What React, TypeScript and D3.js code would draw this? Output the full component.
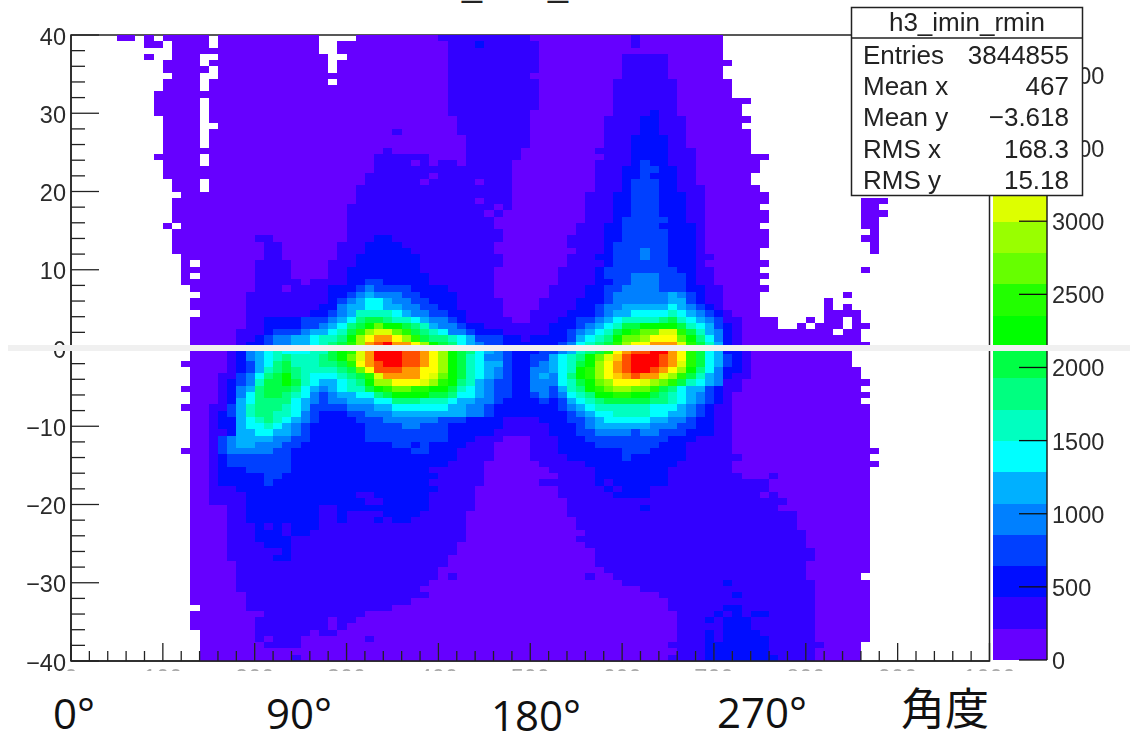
import React from "react";
import * as d3 from "d3";

// ROOT palette bands, from bottom of the colour bar upwards
const paletteColors = ["#6600ff","#3300ff","#0010ff","#0040ff","#0080ff","#00b0ff","#00ffff","#00ffc0","#00ff80","#00ff44","#00ff00","#22ff00","#66ff00","#99ff00","#ddff00","#ffff00","#ffcc00","#ff9900","#ff5000","#ff0000"];
const levelKeys = "0123456789abcdefghij";
const bandWidth = 214;
const paletteTicks = [0,500,1000,1500,2000,2500,3000,3500,4000];
const yTicksMajor = [-40,-30,-20,-10,0,10,20,30,40];
const xTicksMajor = [0,100,200,300,400,500,600,700,800,900,1000];
const xLabels = ["0","100","200","300","400","500","600","700","800","900","1000"];
const statsRows = [["Entries","3844855"],["Mean x","467"],["Mean y","\u22123.618"],["RMS x","168.3"],["RMS y","15.18"]];
const angleLabels = [["0\u00b0",53,729],["90\u00b0",266,729],["180\u00b0",491,731],["270\u00b0",717,728]];

// Each row of the 100 x 100 histogram, top (y=+40) to bottom (y=-40).
// A token is <first bin><level key>; "." means an empty bin. The level holds until the next token.
const histogramRows = [
"50 7. 80 9. 100 15. 160 27. 310 401 500 611 620 71.",
"80 10. 110 15. 160 27. 290 411 442 451 510 611 620 71.",
"110 27. 290 411 510 71.",
"80 9. 110 14. 160 28. 300 411 510 601 650 71.",
"100 14. 150 28. 290 411 510 601 650 72.",
"100 15. 160 28. 290 411 510 601 650 71.",
"110 14. 160 411 500 601 650 71.",
"100 14. 150 28. 290 411 510 591 660 72.",
"100 14. 150 411 510 591 660 72.",
"90 411 510 591 660 72.",
"90 14. 150 411 510 591 660 74.",
"90 14. 150 411 510 591 660 73.",
"90 14. 150 411 500 591 632 641 660 73.",
"100 14. 150 421 500 581 622 641 670 74.",
"100 14. 160 421 500 581 622 641 670 73.",
"100 14. 150 351 360 421 500 581 622 641 670 74.",
"100 14. 150 431 500 581 612 651 670 74.",
"100 14. 150 431 500 581 612 651 670 74.",
"100 341 350 431 490 571 612 651 680 74.",
"90 14. 150 331 390 431 490 581 612 651 680 76.",
"100 14. 150 331 370 381 390 401 420 431 480 571 612 623 632 651 680 75.",
"100 331 480 571 602 623 642 661 680 75.",
"100 321 390 401 480 571 602 623 632 661 680 74.",
"110 14. 150 321 380 391 440 451 480 571 602 613 642 661 680 74.",
"110 14. 150 311 480 571 602 613 642 661 690 75.",
"120 311 480 561 592 613 642 671 690 76.",
"110 311 440 451 480 561 592 613 642 671 690 76. 860 89.",
"110 301 460 471 480 561 592 613 642 671 690 75. 860 88.",
"110 301 450 461 470 561 592 613 642 671 690 76. 860 89.",
"110 301 460 561 592 603 652 671 690 76. 860 88.",
"100 11. 120 301 460 551 582 603 642 681 690 75. 860 88.",
"110 301 470 551 582 603 652 681 690 76. 870 88.",
"110 201 220 301 332 351 470 541 582 603 652 681 690 76. 860 88.",
"110 211 230 291 322 361 460 541 582 593 652 681 690 76. 870 88.",
"110 211 230 291 322 371 460 551 582 593 624 633 652 681 690 75. 870 88.",
"120 211 230 291 312 381 470 541 572 593 624 633 652 681 700 75.",
"120 13. 140 201 240 281 312 381 470 541 582 593 652 681 690 76.",
"120 201 240 281 302 381 460 531 572 583 662 681 700 75. 860 87.",
"120 13. 140 201 240 281 302 391 460 531 572 583 614 643 672 681 700 76.",
"120 201 250 261 302 323 342 391 460 531 572 593 614 643 672 681 700 75.",
"130 201 230 241 282 313 324 333 372 411 460 521 562 583 604 643 672 691 710 76.",
"140 191 282 303 314 325 334 363 382 421 460 521 562 583 594 655 664 673 682 691 710 75. 840 85.",
"130 191 282 293 304 315 326 345 354 373 392 421 470 511 552 583 594 655 673 682 691 710 75. 820 83.",
"130 191 272 294 305 326 345 364 383 402 421 470 511 552 573 584 605 656 665 674 683 692 701 710 75. 820 83. 840 85.",
"140 191 262 283 294 305 317 356 365 374 393 412 431 470 501 542 573 584 595 616 657 666 675 684 693 702 711 720 75. 820 84. 840 86.",
"130 191 212 253 284 295 306 318 329 348 357 376 385 394 413 422 431 480 501 532 553 574 585 596 607 648 659 667 676 685 694 703 711 730 77. 800 81. 820 84. 850 86.",
"130 191 212 253 274 285 296 308 319 32a 33c 34a 369 378 387 395 404 423 432 451 522 553 564 575 586 597 609 62a 669 677 686 695 703 712 721 730 77. 790 80. 810 84. 850 87.",
"130 181 212 223 254 265 286 297 309 31b 32d 33e 35c 36b 379 388 397 406 414 433 442 471 522 543 554 565 576 587 599 60a 61b 62c 64e 66b 679 687 695 704 712 721 730 83. 840 86.",
"130 181 202 213 224 245 266 277 298 30a 31d 32f 33h 35f 36d 37b 389 398 417 426 435 443 472 491 502 543 555 566 577 588 59a 60c 62d 63f 66c 67a 688 696 704 712 721 730 86.",
"130 181 192 213 224 245 266 277 288 299 30b 31d 32h 33i 34j 35h 37f 38d 39a 409 418 426 435 444 453 472 533 544 556 567 578 589 59b 60d 61f 63h 66e 67b 689 697 705 712 721 730 87.",
"130 171 182 194 205 216 227 236 267 289 29a 30b 31e 32h 33j 36i 38h 39f 40d 41a 429 438 446 455 464 473 482 513 534 545 557 568 579 58b 59f 60h 61i 63j 65h 66f 67b 689 696 705 712 731 740 85.",
"130 171 182 194 205 216 227 238 247 278 289 29a 30c 31e 32h 33j 36i 38h 39f 40d 41a 429 437 446 454 473 482 503 525 536 547 558 56a 57c 58e 59g 60i 61j 64i 65h 66f 67b 689 696 705 713 722 731 740 85.",
"120 171 182 193 205 216 228 239 247 278 299 30b 31f 32h 33i 34j 36i 38h 39f 40d 41a 429 437 446 455 473 482 503 514 525 536 547 559 56a 57d 58f 59h 60i 61j 64i 65h 66e 67b 689 696 705 713 722 731 740 85.",
"130 171 182 193 205 217 228 239 248 257 298 309 31c 32f 33i 36h 38f 40d 41a 429 437 446 455 464 473 482 504 525 536 547 55a 56b 57d 58f 59h 60i 61j 63i 64h 65f 66d 67a 688 696 704 712 731 740 86.",
"130 161 183 194 206 218 229 23a 248 257 266 297 308 319 32b 33e 34h 38f 39e 40c 41a 429 437 446 455 464 473 482 504 515 524 536 548 55a 56b 57d 58f 59g 60h 61i 62h 64e 65d 66b 679 687 695 704 712 721 740 86.",
"130 161 172 183 194 207 219 23a 249 257 266 275 296 307 318 32a 33d 35f 38e 39d 40b 41a 428 437 445 454 463 482 504 536 547 559 56a 57c 58d 59f 62e 63d 64c 65b 669 677 686 695 704 711 730 87.",
"120 161 172 184 195 208 219 248 256 265 274 285 296 307 329 33a 34b 35c 37b 39a 419 427 436 445 454 463 482 504 523 535 547 558 56a 57b 58c 59d 61c 63b 649 658 666 675 693 702 711 730 86.",
"130 161 172 184 196 208 219 238 247 256 264 273 284 295 316 338 349 35a 399 418 426 445 454 463 482 503 514 523 534 546 557 568 57a 59b 61a 639 648 657 666 675 684 693 702 711 720 87.",
"130 161 172 185 196 208 246 255 264 273 284 305 336 358 387 416 425 444 463 472 513 522 533 545 556 567 578 589 638 657 666 675 684 693 702 711 720 86.",
"120 151 173 185 197 208 237 246 255 263 304 335 356 415 434 453 462 533 544 555 566 577 636 665 674 683 692 701 720 87.",
"130 151 162 173 185 197 208 227 246 254 263 272 303 324 355 434 453 462 543 554 565 576 597 636 655 674 683 692 701 720 87.",
"130 151 162 185 196 207 218 227 236 245 254 263 272 313 344 403 432 471 512 543 564 575 586 635 654 673 682 701 720 87.",
"130 151 162 185 196 217 226 235 244 253 262 323 364 383 412 471 522 553 564 575 634 663 682 701 720 87.",
"130 151 172 185 206 225 244 253 262 323 412 461 522 553 574 613 624 643 672 701 720 87.",
"130 151 163 174 185 224 243 262 323 412 441 470 501 532 563 652 681 720 87.",
"130 151 163 174 185 204 233 252 353 372 383 392 431 460 501 532 573 642 671 720 87.",
"120 151 163 174 223 242 373 392 421 460 501 532 603 632 671 720 88.",
"130 151 162 173 242 421 460 501 542 603 612 671 730 87.",
"130 151 162 173 242 411 450 511 562 661 720 88.",
"130 151 162 193 242 391 450 521 572 651 720 87.",
"130 151 162 213 232 401 450 531 572 651 730 761 770 87.",
"130 151 162 213 222 391 450 511 572 581 592 651 760 87.",
"130 151 182 401 440 531 582 591 602 631 760 87.",
"130 151 192 311 332 391 440 531 592 631 750 761 770 87.",
"130 151 192 321 342 391 440 541 780 87.",
"130 171 192 271 292 391 440 541 622 631 770 87.",
"130 171 192 271 292 301 342 381 430 541 790 87.",
"130 171 192 271 292 301 332 341 352 371 430 551 790 87.",
"130 171 202 211 222 231 242 271 430 551 790 87.",
"130 171 202 231 242 261 430 561 800 87.",
"130 171 202 241 430 551 800 87.",
"130 171 212 241 420 561 800 87.",
"130 171 232 241 420 571 810 87.",
"130 171 222 241 410 571 810 87.",
"130 181 410 571 800 87.",
"130 181 400 581 800 87.",
"130 181 400 411 420 561 570 591 800 86.",
"130 181 390 601 712 721 810 87.",
"130 181 380 621 810 87.",
"130 191 390 641 722 731 810 87.",
"130 191 370 651 810 87.",
"140 191 350 651 712 731 810 87.",
"130 211 320 661 702 711 722 731 742 761 810 87.",
"130 201 280 291 310 661 692 701 712 741 810 87.",
"130 201 280 291 300 661 712 741 810 87.",
"140 201 260 271 290 661 692 701 712 751 810 87.",
"140 201 210 221 250 321 330 661 692 701 712 761 810 87.",
"140 211 250 651 692 761 820 86.",
"140 661 692 761 810 86.",
"140 241 250 651 692 771 810 86.",
];

type Run = { row: number; from: number; to: number; value: number };

function parseRuns(): Run[] {
  const runs: Run[] = [];
  histogramRows.forEach((line, row) => {
    const tokens = line.trim().split(/\s+/);
    tokens.forEach((tok, i) => {
      const key = tok.slice(-1);
      if (key === ".") return;
      const from = parseInt(tok.slice(0, -1), 10);
      const next = tokens[i + 1];
      const to = next ? parseInt(next.slice(0, -1), 10) : 100;
      runs.push({ row, from, to, value: (levelKeys.indexOf(key) + 0.5) * bandWidth });
    });
  });
  return runs;
}

const sans = "'Liberation Sans', Arial, sans-serif";
const ink = "#222";

export default function App() {
  const x = d3.scaleLinear().domain([0, 1000]).range([71, 989.5]);
  const y = d3.scaleLinear().domain([-40, 40]).range([661, 35]);
  const maxValue = bandWidth * paletteColors.length;
  const color = d3.scaleQuantize<string>().domain([0, maxValue]).range(paletteColors);
  const barY = d3.scaleLinear().domain([0, maxValue]).range([660, 34]);
  const runs = parseRuns();
  const binW = 10;
  const binH = 0.8;
  const yMinor = d3.range(-40, 40.01, 2);
  const xMinor = d3.range(0, 1000.01, 20);

  return (
    <svg width={1130} height={732} style={{ position: "absolute", left: 0, top: 0, display: "block" }}>
      <defs>
        <clipPath id="lowLabels"><rect x={0} y={0} width={1130} height={671} /></clipPath>
        <filter id="soft" filterUnits="userSpaceOnUse" x={0} y={0} width={1130} height={732}>
          <feGaussianBlur stdDeviation={0.55} />
        </filter>
      </defs>
      <rect width={1130} height={732} fill="#fff" />
      <text x={530} y={-4} fontFamily={sans} fontSize={36} textAnchor="middle" fill={ink}>h3_imin_rmin</text>

      <g filter="url(#soft)">
        <rect x={x(0)} y={y(40)} width={x(1000) - x(0)} height={y(-40) - y(40)} fill="none" stroke={ink} strokeWidth={1.5} />

        <g shapeRendering="crispEdges">
          {runs.map((r, i) => {
            const top = 40 - r.row * binH;
            return (
              <rect key={i} x={x(r.from * binW)} y={y(top)}
                width={x(r.to * binW) - x(r.from * binW)} height={y(top - binH) - y(top)}
                fill={color(r.value)} />
            );
          })}
        </g>

        {/* axes */}
        <line x1={x(0)} x2={x(1000)} y1={y(-40)} y2={y(-40)} stroke={ink} strokeWidth={1.5} />
        <line x1={x(0)} x2={x(0)} y1={y(40)} y2={y(-40)} stroke={ink} strokeWidth={1.5} />
        {yMinor.map((v) => (
          <line key={v} x1={x(0)} x2={x(0) + (v % 10 === 0 ? 28 : 14)} y1={y(v)} y2={y(v)} stroke={ink} strokeWidth={1.3} />
        ))}
        {xMinor.map((v) => (
          <line key={v} x1={x(v)} x2={x(v)} y1={y(-40)} y2={y(-40) - (v % 100 === 0 ? 18 : 10)} stroke={ink} strokeWidth={1.3} />
        ))}

        <g clipPath="url(#lowLabels)" fontFamily={sans} fontSize={23.5} fill="#2a2a2a">
          {yTicksMajor.map((v) => (
            <text key={v} x={66} y={y(v) + 9.5} textAnchor="end">{v < 0 ? "\u2212" + Math.abs(v) : String(v)}</text>
          ))}
          {xTicksMajor.map((v, i) => (
            <text key={v} x={x(v)} y={686} textAnchor="middle" fill="#aaa">{xLabels[i]}</text>
          ))}
        </g>

        {/* colour bar */}
        <g shapeRendering="crispEdges">
          {paletteColors.map((c, i) => (
            <rect key={c} x={993} y={barY((i + 1) * bandWidth)} width={54} height={barY(i * bandWidth) - barY((i + 1) * bandWidth)} fill={c} />
          ))}
        </g>
        <line x1={1047} x2={1047} y1={34} y2={660} stroke={ink} strokeWidth={1.5} />
        <g clipPath="url(#lowLabels)">
          {paletteTicks.map((v) => (
            <g key={v}>
              <line x1={1019} x2={1047} y1={barY(v)} y2={barY(v)} stroke="#111" strokeWidth={1.3} />
              <text x={1052} y={barY(v) + 9} fontFamily={sans} fontSize={23.5} fill="#2a2a2a">{v}</text>
            </g>
          ))}
        </g>

        {/* stats box */}
        <rect x={851.5} y={7.5} width={231} height={188} fill="#fff" stroke={ink} strokeWidth={1.5} />
        <line x1={851.5} x2={1082.5} y1={38} y2={38} stroke={ink} strokeWidth={1.5} />
        <text x={967} y={31} fontFamily={sans} fontSize={26} textAnchor="middle" fill={ink}>h3_imin_rmin</text>
        {statsRows.map(([k, val], i) => (
          <g key={k} fontFamily={sans} fontSize={26} fill={ink}>
            <text x={863} y={64 + i * 31.2}>{k}</text>
            <text x={1069} y={64 + i * 31.2} textAnchor="end">{val}</text>
          </g>
        ))}
      </g>

      {/* pale band across the picture */}
      <rect x={8} y={345} width={1122} height={6} fill="#f0f0f0" />

      {/* overlaid angle annotations */}
      <g fontFamily="'Open Sans', 'Noto Sans', sans-serif" fontSize={42} fill="#111">
        {angleLabels.map(([t, lx, ly]) => (
          <text key={String(t)} x={Number(lx)} y={Number(ly)}>{t}</text>
        ))}
      </g>
      <text x={901} y={725} fontFamily="'Noto Sans CJK JP', sans-serif" fontSize={44} fill="#111">角度</text>
    </svg>
  );
}
